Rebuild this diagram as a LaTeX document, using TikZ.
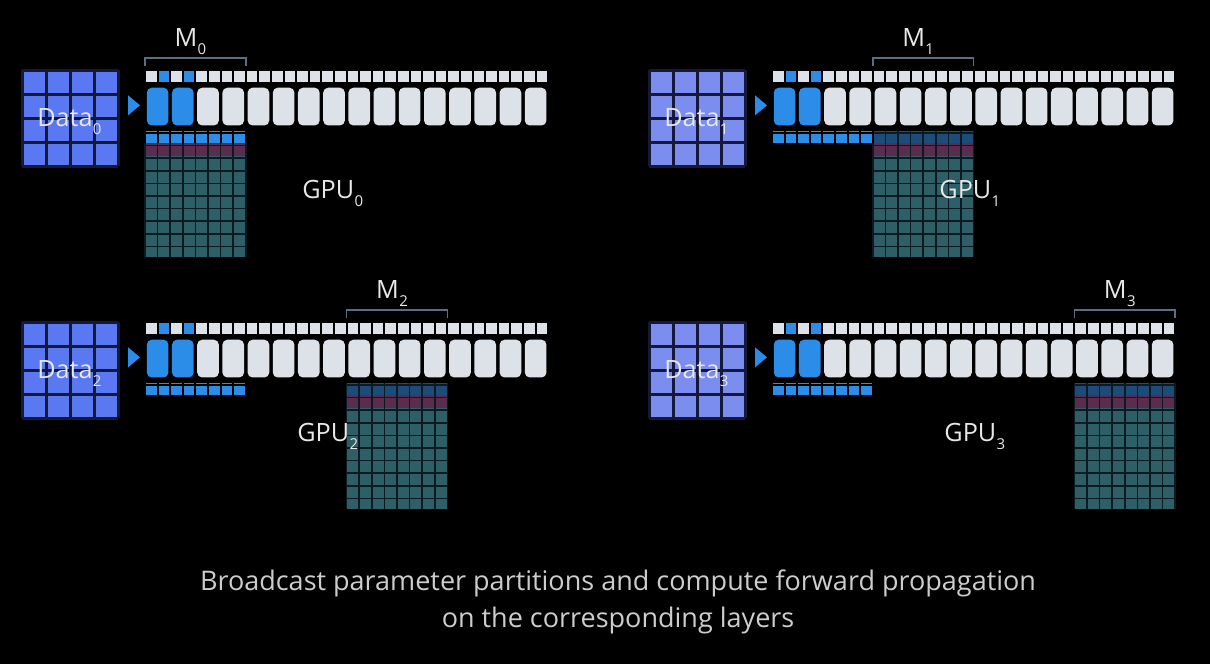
\documentclass[tikz,border=0pt]{standalone}
\usepackage{fontspec}
\setmainfont{Open Sans}
\usepackage{tikz}

\definecolor{cellgray}{HTML}{DDE2E8}
\definecolor{brightblue}{HTML}{2B8DE8}
\definecolor{dataA}{HTML}{5A78F2}
\definecolor{dataB}{HTML}{7C8DF0}
\definecolor{dataline}{HTML}{16183A}
\definecolor{blockteal}{HTML}{2E5E66}
\definecolor{blockplum}{HTML}{5A2C4E}
\definecolor{blockdark}{HTML}{1C4C7A}
\definecolor{blockline}{HTML}{0E1A22}
\definecolor{bracketgray}{HTML}{5E6C80}
\definecolor{labelgray}{HTML}{E8E8E8}
\definecolor{captiongray}{HTML}{CDCDCD}

\newcommand{\lowidx}[1]{\kern0.2pt\raisebox{-4pt}{\fontsize{7.5}{8}\selectfont #1}}

\begin{document}
\begin{tikzpicture}[x=6.3pt, y=6.3pt,
  every node/.style={text=labelgray, font=\fontsize{12.6}{15}\selectfont, inner sep=0pt},
  light/.style={fill=cellgray},
  bright/.style={fill=brightblue},
  big/.style={rounded corners=2.5pt},
  gaps/.style={draw=black, line width=1pt, step=1},
  blockgaps/.style={draw=blockline, line width=0.8pt, step=1},
  datagaps/.style={draw=dataline, line width=1.5pt, step=1},
  bracket/.style={draw=bracketgray, line width=0.8pt}]
\useasboundingbox (0,0) rectangle (96.03,52.70);
\fill[black] (0,0) rectangle (96.03,52.70);

% GPU 0
\begin{scope}[shift={(11.51,47.14)}]
\fill[fill=dataA] (-9.76,-7.62) rectangle (-2.14,0);
\begin{scope}[shift={(-9.76,-7.62)}, scale=1.905]
\draw[datagaps] (0,0) grid (4,4);
\end{scope}
\node[anchor=base] (data0) at (-6,-4.5) {Data\lowidx{0}};
\fill[bright] (-1.35,-2) -- (-0.4,-2.8) -- (-1.35,-3.6) -- cycle;
\fill[light] (0,-1) rectangle (32,0);
\fill[bright] (1,-1) rectangle (2,0) (3,-1) rectangle (4,0);
\draw[gaps] (0,-1) grid (32,0);
\fill[bright, big] (0.14,-4.4) rectangle ++(1.72,3) (2.14,-4.4) rectangle ++(1.72,3);
\foreach \i in {2,...,15} \fill[light, big] (2*\i+0.14,-4.4) rectangle ++(1.72,3);
\fill[fill=blockteal] (0,-14.8) rectangle (8,-6.8);
\fill[fill=blockplum] (0,-6.8) rectangle (8,-5.8);
\draw[blockgaps] (0,-14.8) grid (8,-5.8);
\fill[bright] (0,-5.8) rectangle (8,-4.8);
\draw[gaps] (0,-5.8) grid (8,-4.8);
\draw[bracket] (0,0.32) -- (0,0.95) -- (8,0.95) -- (8,0.32);
\node[anchor=base] (m0) at (3.6,1.83) {M\lowidx{0}};
\node[anchor=base] (gpu0) at (14.9,-10.16) {GPU\lowidx{0}};
\end{scope}

% GPU 1
\begin{scope}[shift={(61.27,47.14)}]
\fill[fill=dataB] (-9.76,-7.62) rectangle (-2.14,0);
\begin{scope}[shift={(-9.76,-7.62)}, scale=1.905]
\draw[datagaps] (0,0) grid (4,4);
\end{scope}
\node[anchor=base] (data1) at (-6,-4.5) {Data\lowidx{1}};
\fill[bright] (-1.35,-2) -- (-0.4,-2.8) -- (-1.35,-3.6) -- cycle;
\fill[light] (0,-1) rectangle (32,0);
\fill[bright] (1,-1) rectangle (2,0) (3,-1) rectangle (4,0);
\draw[gaps] (0,-1) grid (32,0);
\fill[bright, big] (0.14,-4.4) rectangle ++(1.72,3) (2.14,-4.4) rectangle ++(1.72,3);
\foreach \i in {2,...,15} \fill[light, big] (2*\i+0.14,-4.4) rectangle ++(1.72,3);
\fill[fill=blockteal] (8,-14.8) rectangle (16,-6.8);
\fill[fill=blockplum] (8,-6.8) rectangle (16,-5.8);
\fill[fill=blockdark] (8,-5.8) rectangle (16,-4.8);
\draw[blockgaps] (8,-14.8) grid (16,-4.8);
\fill[bright] (0,-5.8) rectangle (8,-4.8);
\draw[gaps] (0,-5.8) grid (8,-4.8);
\draw[bracket] (8,0.32) -- (8,0.95) -- (16,0.95) -- (16,0.32);
\node[anchor=base] (m1) at (11.6,1.83) {M\lowidx{1}};
\node[anchor=base] (gpu1) at (15.7,-10.16) {GPU\lowidx{1}};
\end{scope}

% GPU 2
\begin{scope}[shift={(11.51,27.14)}]
\fill[fill=dataA] (-9.76,-7.62) rectangle (-2.14,0);
\begin{scope}[shift={(-9.76,-7.62)}, scale=1.905]
\draw[datagaps] (0,0) grid (4,4);
\end{scope}
\node[anchor=base] (data2) at (-6,-4.5) {Data\lowidx{2}};
\fill[bright] (-1.35,-2) -- (-0.4,-2.8) -- (-1.35,-3.6) -- cycle;
\fill[light] (0,-1) rectangle (32,0);
\fill[bright] (1,-1) rectangle (2,0) (3,-1) rectangle (4,0);
\draw[gaps] (0,-1) grid (32,0);
\fill[bright, big] (0.14,-4.4) rectangle ++(1.72,3) (2.14,-4.4) rectangle ++(1.72,3);
\foreach \i in {2,...,15} \fill[light, big] (2*\i+0.14,-4.4) rectangle ++(1.72,3);
\fill[fill=blockteal] (16,-14.8) rectangle (24,-6.8);
\fill[fill=blockplum] (16,-6.8) rectangle (24,-5.8);
\fill[fill=blockdark] (16,-5.8) rectangle (24,-4.8);
\draw[blockgaps] (16,-14.8) grid (24,-4.8);
\fill[bright] (0,-5.8) rectangle (8,-4.8);
\draw[gaps] (0,-5.8) grid (8,-4.8);
\draw[bracket] (16,0.32) -- (16,0.95) -- (24,0.95) -- (24,0.32);
\node[anchor=base] (m2) at (19.6,1.83) {M\lowidx{2}};
\node[anchor=base] (gpu2) at (14.5,-9.44) {GPU\lowidx{2}};
\end{scope}

% GPU 3
\begin{scope}[shift={(61.27,27.14)}]
\fill[fill=dataB] (-9.76,-7.62) rectangle (-2.14,0);
\begin{scope}[shift={(-9.76,-7.62)}, scale=1.905]
\draw[datagaps] (0,0) grid (4,4);
\end{scope}
\node[anchor=base] (data3) at (-6,-4.5) {Data\lowidx{3}};
\fill[bright] (-1.35,-2) -- (-0.4,-2.8) -- (-1.35,-3.6) -- cycle;
\fill[light] (0,-1) rectangle (32,0);
\fill[bright] (1,-1) rectangle (2,0) (3,-1) rectangle (4,0);
\draw[gaps] (0,-1) grid (32,0);
\fill[bright, big] (0.14,-4.4) rectangle ++(1.72,3) (2.14,-4.4) rectangle ++(1.72,3);
\foreach \i in {2,...,15} \fill[light, big] (2*\i+0.14,-4.4) rectangle ++(1.72,3);
\fill[fill=blockteal] (24,-14.8) rectangle (32,-6.8);
\fill[fill=blockplum] (24,-6.8) rectangle (32,-5.8);
\fill[fill=blockdark] (24,-5.8) rectangle (32,-4.8);
\draw[blockgaps] (24,-14.8) grid (32,-4.8);
\fill[bright] (0,-5.8) rectangle (8,-4.8);
\draw[gaps] (0,-5.8) grid (8,-4.8);
\draw[bracket] (24,0.32) -- (24,0.95) -- (32,0.95) -- (32,0.32);
\node[anchor=base] (m3) at (27.6,1.83) {M\lowidx{3}};
\node[anchor=base] (gpu3) at (16.1,-9.44) {GPU\lowidx{3}};
\end{scope}

\node[anchor=base, text=captiongray, font=\fontsize{13.5}{16}\selectfont] (caption1) at (49.05,5.87) {Broadcast parameter partitions and compute forward propagation};
\node[anchor=base, text=captiongray, font=\fontsize{13.5}{16}\selectfont] (caption2) at (49.05,2.86) {on the corresponding layers};
\end{tikzpicture}
\end{document}
